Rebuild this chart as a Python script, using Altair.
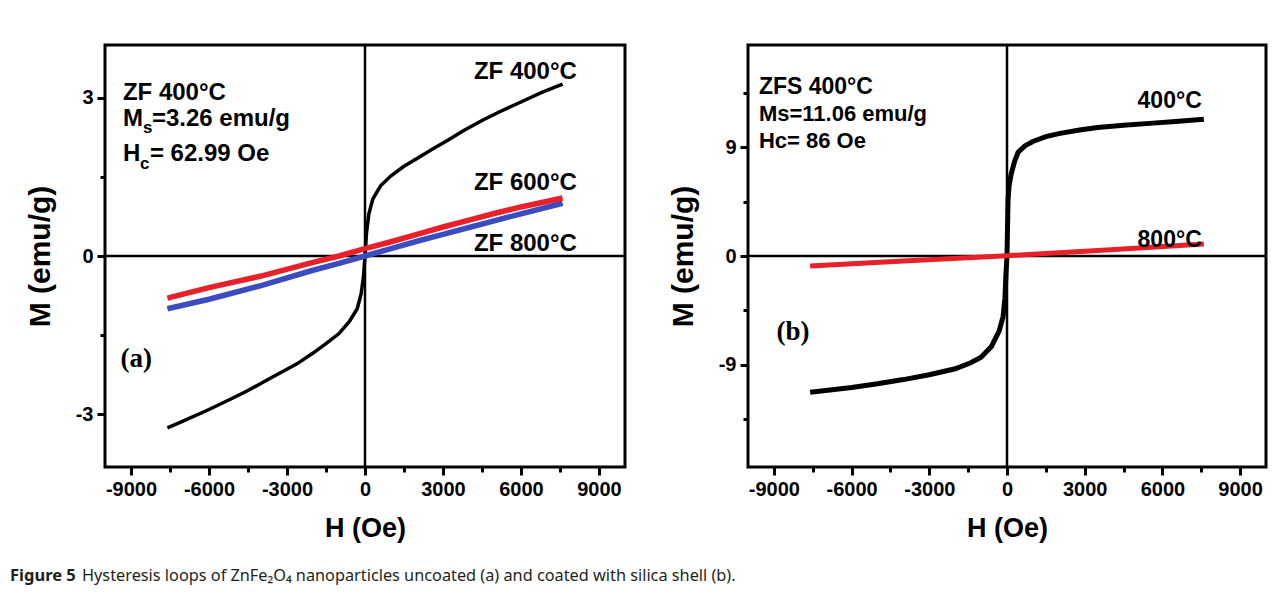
import altair as alt
import pandas as pd

# ---------------- data ----------------
# Panel (a): ZnFe2O4 uncoated
a_black_H = [-7600, -7000, -6000, -5200, -4500, -3800, -3200, -2600, -2000, -1500, -1000, -600, -300, -150, -60, 0,
             60, 150, 300, 600, 1000, 1500, 2000, 2600, 3200, 3800, 4500, 5200, 6000, 6800, 7600]
a_black_M = [-3.26, -3.13, -2.91, -2.72, -2.55, -2.36, -2.20, -2.04, -1.84, -1.66, -1.47, -1.24, -1.00, -0.72, -0.40, 0.0,
             0.45, 0.80, 1.08, 1.33, 1.52, 1.70, 1.85, 2.03, 2.20, 2.38, 2.57, 2.74, 2.92, 3.10, 3.26]
a_lin_H = [-7600, -6000, -4000, -2000, -1000, 0, 1000, 2000, 3000, 4000, 5000, 6000, 7600]
a_red_M = [-0.80, -0.60, -0.38, -0.12, 0.00, 0.14, 0.27, 0.41, 0.55, 0.68, 0.81, 0.93, 1.10]
a_blue_M = [-1.00, -0.82, -0.56, -0.27, -0.14, 0.00, 0.14, 0.28, 0.41, 0.54, 0.67, 0.80, 1.00]

# Panel (b): ZnFe2O4 coated with silica
b_black_H = [-7600, -7000, -6000, -5000, -4000, -3000, -2000, -1400, -1000, -600, -300, -150, -80, -40, 0,
             40, 80, 160, 300, 430, 700, 1000, 1500, 2000, 2800, 3500, 4500, 5500, 6500, 7600]
b_black_M = [-11.30, -11.15, -10.90, -10.60, -10.25, -9.85, -9.35, -8.85, -8.40, -7.50, -6.20, -5.00, -3.50, -1.50, 0.0,
             4.60, 5.80, 6.80, 7.90, 8.60, 9.15, 9.50, 9.90, 10.15, 10.45, 10.65, 10.85, 11.00, 11.15, 11.35]
b_red_H = [-7600, -4000, 0, 4000, 7600]
b_red_M = [-0.83, -0.42, 0.02, 0.52, 1.00]

x_ticks = [-9000, -7500, -6000, -4500, -3000, -1500, 0, 1500, 3000, 4500, 6000, 7500, 9000]
a_y_ticks = [-3, -1.5, 0, 1.5, 3]
b_y_ticks = [-13.5, -9, -4.5, 0, 4.5, 9, 13.5]

caption_bold = "Figure 5"
caption_rest = "Hysteresis loops of ZnFe₂O₄ nanoparticles uncoated (a) and coated with silica shell (b)."

FONT = "Liberation Sans"
SERIF = "Liberation Serif"


def axis(values, major, title, title_pad, title_size):
    return alt.Axis(
        values=values,
        labelExpr=f"datum.value % {major} == 0 ? '' + datum.value : ''",
        tickSize={"condition": {"test": f"datum.value % {major} == 0", "value": 8}, "value": 5},
        tickWidth=3, tickColor="black", domain=False, grid=False,
        labelFont=FONT, labelFontWeight="bold", labelFontSize=20, labelColor="black", labelPadding=4,
        title=title, titleFont=FONT, titleFontWeight="bold", titleFontSize=title_size,
        titleColor="black", titlePadding=title_pad,
    )


def panel(width, ydom, yticks, ymajor, curves, labels, extra=()):
    xenc = alt.X("H:Q", scale=alt.Scale(domain=[-10000, 10000], nice=False, zero=False),
                 axis=axis(x_ticks, 3000, "H (Oe)", 16, 27))
    yenc = alt.Y("M:Q", scale=alt.Scale(domain=ydom, nice=False, zero=False),
                 axis=axis(yticks, ymajor, "M (emu/g)", 20, 30))
    layers = []
    zero = pd.DataFrame({"H": [0], "M": [0]})
    layers.append(alt.Chart(zero).mark_rule(color="black", strokeWidth=2.5).encode(x=xenc))
    layers.append(alt.Chart(zero).mark_rule(color="black", strokeWidth=2.5).encode(y=yenc))
    for H, M, color, sw in curves:
        df = pd.DataFrame({"H": H, "M": M})
        layers.append(alt.Chart(df).mark_line(color=color, strokeWidth=sw).encode(x=xenc, y=yenc))
    for text, H, M, size, align, dx, dy, font in labels:
        df = pd.DataFrame({"H": [H], "M": [M], "t": [text]})
        layers.append(
            alt.Chart(df).mark_text(font=font, fontWeight="bold", fontSize=size, align=align,
                                    baseline="alphabetic", dx=dx, dy=dy, color="black")
            .encode(x=xenc, y=yenc, text="t:N")
        )
    layers.extend(extra)
    return alt.layer(*layers).properties(
        width=width, height=422, view=alt.ViewBackground(stroke="black", strokeWidth=3)
    )


cap_df = pd.DataFrame({"a": [caption_bold], "b": [caption_rest]})
cap1 = alt.Chart(cap_df).mark_text(font="Noto Sans", fontWeight="bold", fontSize=16.5, align="left",
                                   baseline="alphabetic", color="#231f20").encode(
    x=alt.value(-95), y=alt.value(536), text="a:N")
cap2 = alt.Chart(cap_df).mark_text(font="Noto Sans", fontSize=16.3, align="left",
                                   baseline="alphabetic", color="#231f20").encode(
    x=alt.value(-23), y=alt.value(536), text="b:N")

panel_a = panel(
    520, [-4, 4], a_y_ticks, 3,
    [(a_black_H, a_black_M, "black", 3.5),
     (a_lin_H, a_blue_M, "#3b4cc0", 5.5),
     (a_lin_H, a_red_M, "#e8202a", 5.5)],
    [("ZF 400°C", -9310, 2.95, 24, "left", 0, 0, FONT),
     ("M", -9310, 2.457, 24, "left", 0, 0, FONT),
     ("s", -9310, 2.457, 17, "left", 20, 7, FONT),
     ("=3.26 emu/g", -9310, 2.457, 24, "left", 29, 0, FONT),
     ("H", -9310, 1.80, 24, "left", 0, 0, FONT),
     ("c", -9310, 1.80, 17, "left", 17, 8, FONT),
     ("= 62.99 Oe", -9310, 1.80, 24, "left", 27, 0, FONT),
     ("ZF 400°C", 8150, 3.35, 24, "right", 0, 0, FONT),
     ("ZF 600°C", 8150, 1.25, 24, "right", 0, 0, FONT),
     ("ZF 800°C", 8150, 0.10, 24, "right", 0, 0, FONT),
     ("(a)", -8800, -2.1, 27, "center", 0, 0, SERIF)],
    extra=(cap1, cap2),
)

panel_b = panel(
    518, [-17.5, 17.5], b_y_ticks, 9,
    [(b_black_H, b_black_M, "black", 5),
     (b_red_H, b_red_M, "#e8202a", 5)],
    [("ZFS 400°C", -9580, 13.43, 23, "left", 0, 0, FONT),
     ("Ms=11.06 emu/g", -9580, 11.19, 22, "left", 0, 0, FONT),
     ("Hc= 86 Oe", -9580, 8.96, 22, "left", 0, 0, FONT),
     ("400°C", 7520, 12.27, 23, "right", 0, 0, FONT),
     ("800°C", 7520, 0.75, 23, "right", 0, 0, FONT),
     ("(b)", -8260, -6.95, 27, "center", 0, 0, SERIF)],
)

chart = alt.hconcat(panel_a, panel_b, spacing=123, bounds="flush").properties(
    padding={"left": 0, "top": 34, "right": 0, "bottom": 0}
).configure(background="white").configure_view(stroke="transparent")

chart.save("out.html", embed_options={"renderer": "svg", "actions": False})
